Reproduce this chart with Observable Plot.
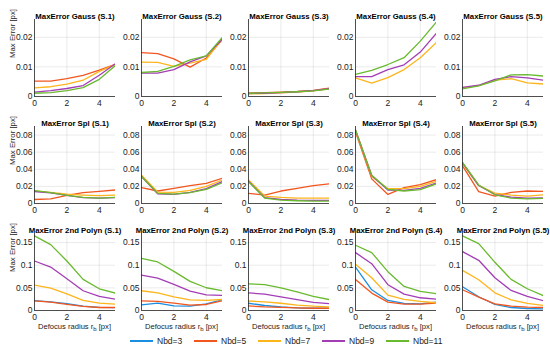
<!DOCTYPE html>
<html><head><meta charset="utf-8">
<script src="https://cdn.jsdelivr.net/npm/d3@7"></script>
<script src="https://cdn.jsdelivr.net/npm/@observablehq/plot@0.6"></script>
<style>
body{margin:0;background:#fff;}
#fig{position:relative;width:550px;height:355px;font-family:"Liberation Sans",Arial,sans-serif;overflow:hidden;}
#legend{position:absolute;left:130px;top:334px;height:14px;display:flex;font-size:8.5px;color:#222;}
#legend .it{width:64px;display:flex;align-items:center;}
#legend .ln{width:23px;height:0;border-top:2px solid;margin-right:4px;}
</style></head><body><div id="fig"><div id="legend"></div></div>
<script>
const xs = [0, 1, 2, 3, 4, 5];
const xTicks = [0, 2, 4];
const nbd = ["Nbd=3", "Nbd=5", "Nbd=7", "Nbd=9", "Nbd=11"];
const colors = ["#1c8ee0", "#f2561f", "#fdb51c", "#a33db6", "#69ba2f"];
const rowNames = ["MaxError Gauss", "MaxError Spl", "MaxError 2nd Polyn"];
const setNames = ["S.1", "S.2", "S.3", "S.4", "S.5"];
const yMax = [0.026, 0.09, 0.17];
const yTicks = [[0, 0.01, 0.02], [0, 0.02, 0.04, 0.06, 0.08], [0, 0.05, 0.1, 0.15]];

// series order: Nbd=3, 5, 7, 9, 11 (null = not shown)
const gaussS1 = [null,
 [0.0052,0.0052,0.006,0.0071,0.0089,0.0109],
 [0.0029,0.0033,0.0042,0.0055,0.0085,0.0108],
 [0.0015,0.002,0.0027,0.0037,0.0072,0.0111],
 [0.0011,0.0013,0.002,0.003,0.0058,0.0105]];
const gaussS2 = [null,
 [0.0148,0.0145,0.0127,0.0099,0.013,0.0193],
 [0.0116,0.0115,0.0102,0.0113,0.0125,0.0197],
 [0.0079,0.0079,0.0091,0.0117,0.0137,0.0195],
 [0.0081,0.0085,0.0102,0.0124,0.0137,0.02]];
const gaussS3 = [null,
 [0.0012,0.0013,0.0015,0.0017,0.0021,0.0028],
 [0.0009,0.001,0.0012,0.0015,0.0019,0.0026],
 [0.001,0.0011,0.0013,0.0016,0.002,0.0027],
 [0.0011,0.0012,0.0014,0.0016,0.0019,0.0025]];
const gaussS4 = [null, null,
 [0.0063,0.0045,0.0064,0.0091,0.0131,0.0183],
 [0.0067,0.0067,0.0091,0.0107,0.015,0.0214],
 [0.0075,0.0088,0.0108,0.0131,0.0187,0.0252]];
const gaussS5 = [null, null,
 [0.0029,0.0037,0.0055,0.006,0.0046,0.0042],
 [0.0031,0.0038,0.0058,0.0067,0.0063,0.0055],
 [0.0026,0.0036,0.0053,0.0073,0.0074,0.0069]];

const splS1 = [null,
 [0.0047,0.0055,0.0095,0.0126,0.0142,0.0158],
 [0.0146,0.013,0.011,0.0099,0.0091,0.0099],
 [0.014,0.0125,0.0095,0.0068,0.0062,0.0068],
 [0.015,0.0126,0.0095,0.0071,0.0063,0.0071]];
const splS2 = [null,
 [0.0185,0.0146,0.0177,0.0209,0.0236,0.0296],
 [0.033,0.0134,0.013,0.0154,0.02,0.0276],
 [0.0315,0.0114,0.0106,0.013,0.0173,0.0256],
 [0.0315,0.0118,0.011,0.0126,0.0166,0.0244]];
const splS3 = [null,
 [0.0118,0.0099,0.0146,0.0177,0.0209,0.023],
 [0.0276,0.0087,0.0071,0.0063,0.0063,0.0063],
 [0.026,0.0068,0.0049,0.004,0.0037,0.0037],
 [0.0256,0.0063,0.004,0.0032,0.0028,0.0028]];
const splS4 = [null,
 [0.0835,0.0288,0.0106,0.0185,0.022,0.028],
 [0.0847,0.0315,0.0173,0.0173,0.02,0.026],
 [0.086,0.0327,0.0158,0.0154,0.0177,0.024],
 [0.086,0.033,0.0166,0.0146,0.0162,0.023]];
const splS5 = [null,
 [0.0441,0.0138,0.0087,0.013,0.0146,0.0142],
 [0.0465,0.0209,0.0122,0.0099,0.0087,0.0102],
 [0.0475,0.021,0.0105,0.0075,0.0063,0.0065],
 [0.048,0.0217,0.0102,0.0063,0.0055,0.0059]];

const polyS1 = [
 [0.022,0.019,0.015,0.0095,0.007,0.0065],
 [0.0214,0.0185,0.0133,0.0089,0.0066,0.0066],
 [0.0561,0.0495,0.0369,0.0222,0.0163,0.014],
 [0.1093,0.096,0.0702,0.0436,0.031,0.0251],
 [0.1647,0.1455,0.1093,0.0687,0.048,0.0384]];
const polyS2 = [
 [0.0126,0.0163,0.0103,0.0096,0.0148,0.0236],
 [0.0214,0.02,0.0163,0.0118,0.0133,0.0214],
 [0.0436,0.0391,0.0303,0.0236,0.0222,0.0244],
 [0.0783,0.0716,0.0576,0.0428,0.0347,0.0332],
 [0.1152,0.1071,0.0864,0.0642,0.0502,0.0436]];
const polyS3 = [
 [0.016,0.011,0.008,0.006,0.005,0.005],
 [0.010,0.008,0.007,0.006,0.005,0.005],
 [0.021,0.019,0.016,0.012,0.0096,0.008],
 [0.039,0.036,0.03,0.024,0.018,0.015],
 [0.059,0.057,0.05,0.041,0.031,0.024]];
const polyS4 = [
 [0.096,0.0458,0.0222,0.0155,0.0148,0.0185],
 [0.0687,0.0384,0.0185,0.014,0.014,0.0163],
 [0.1019,0.0724,0.034,0.0244,0.02,0.017],
 [0.1278,0.1034,0.0569,0.0362,0.0281,0.0251],
 [0.144,0.1278,0.0857,0.0532,0.0421,0.0369]];
const polyS5 = [
 [0.0524,0.0303,0.0133,0.0066,0.0044,0.0037],
 [0.0458,0.0295,0.0148,0.0096,0.0074,0.0066],
 [0.0886,0.068,0.0391,0.0236,0.0155,0.011],
 [0.13,0.1108,0.0724,0.0443,0.031,0.0214],
 [0.1647,0.1477,0.1064,0.0687,0.048,0.0325]];

const panels = [
  [gaussS1, gaussS2, gaussS3, gaussS4, gaussS5],
  [splS1, splS2, splS3, splS4, splS5],
  [polyS1, polyS2, polyS3, polyS4, polyS5]
];

const fig = document.getElementById("fig");
const ML = 34, MR = 4, MT = 20, MB = 32, PW = 81, PH = 77;
const colLeft = c => 34 + 107.1 * c;
const rowTop = r => 19 + 107 * r;
const fmt = d => String(d);

panels.forEach((row, r) => {
  row.forEach((series, c) => {
    const data = [];
    series.forEach((vals, k) => {
      if (!vals) return;
      vals.forEach((v, i) => data.push({x: xs[i], y: v, s: nbd[k]}));
    });
    const marks = [
      Plot.gridX(xTicks, {stroke: "#000", strokeOpacity: 0.12, strokeWidth: 0.7}),
      Plot.gridY(yTicks[r], {stroke: "#000", strokeOpacity: 0.12, strokeWidth: 0.7}),
      Plot.axisX(xTicks, {tickSize: 0, tickPadding: 3, label: null, tickFormat: fmt, fontSize: 8.5, fill: "#222"}),
      Plot.axisY(yTicks[r], {tickSize: 0, tickPadding: 2, label: null, tickFormat: fmt, fontSize: 8.5, fill: "#222"}),
      Plot.line(data, {x: "x", y: "y", z: "s", stroke: "s", strokeWidth: 1.3, clip: true}),
      Plot.ruleX([0], {stroke: "#262626", strokeWidth: 0.8}),
      Plot.ruleY([0], {stroke: "#262626", strokeWidth: 0.8}),
      Plot.text([`${rowNames[r]} (${setNames[c]})`], {frameAnchor: "top", lineAnchor: "bottom", dy: -1, fontWeight: "bold", fontSize: 7.8, fill: "#000"})
    ];
    if (c === 0) {
      marks.push(Plot.text(["Max Error [px]"], {frameAnchor: "left", rotate: -90, dx: -22, fontSize: 7.8, fill: "#222"}));
    }
    const svg = Plot.plot({
      width: ML + PW + MR, height: MT + PH + MB,
      marginLeft: ML, marginRight: MR, marginTop: MT, marginBottom: MB,
      style: {background: "transparent", overflow: "visible", fontFamily: '"Liberation Sans", Arial, sans-serif'},
      x: {domain: [0, 5]},
      y: {domain: [0, yMax[r]]},
      color: {domain: nbd, range: colors},
      marks
    });
    svg.style.position = "absolute";
    svg.style.left = (colLeft(c) - ML) + "px";
    svg.style.top = (rowTop(r) - MT) + "px";
    svg.style.maxWidth = "none";
    if (r === 2) {
      const t = d3.select(svg).append("text")
        .attr("x", ML + PW / 2).attr("y", MT + PH + 19)
        .attr("text-anchor", "middle").attr("font-size", 7.6).attr("fill", "#222");
      t.append("tspan").text("Defocus radius r");
      t.append("tspan").attr("dy", 2).attr("font-size", 6).text("b");
      t.append("tspan").attr("dy", -2).text(" [px]");
    }
    fig.appendChild(svg);
  });
});

const legend = d3.select("#legend");
nbd.forEach((name, k) => {
  const it = legend.append("div").attr("class", "it");
  it.append("div").attr("class", "ln").style("border-color", colors[k]);
  it.append("span").text(name);
});
</script></body></html>
